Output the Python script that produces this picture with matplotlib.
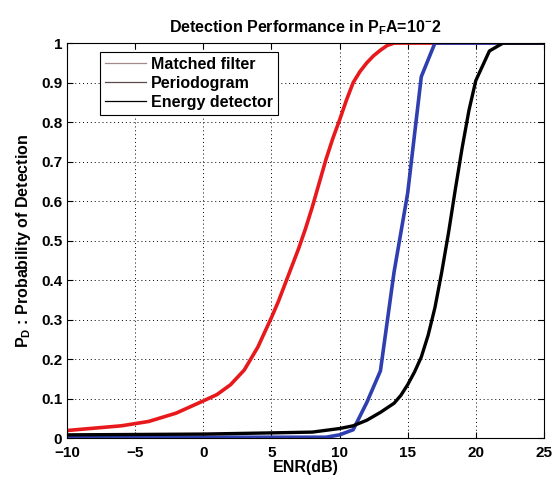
import matplotlib
matplotlib.use("Agg")
import matplotlib.pyplot as plt

plt.rcParams['font.family'] = ['Liberation Sans', 'DejaVu Sans']
plt.rcParams['font.weight'] = 'bold'
plt.rcParams['mathtext.fontset'] = 'custom'
plt.rcParams['mathtext.rm'] = 'Liberation Sans:bold'
plt.rcParams['mathtext.it'] = 'Liberation Sans:bold'
plt.rcParams['mathtext.bf'] = 'Liberation Sans:bold'

# Matched filter (red)
mf_x = [-10, -8, -6, -4, -2, 0, 1, 2, 3, 4, 5, 5.5, 6, 6.5, 7, 7.5, 8, 8.5, 9, 9.5,
        10, 10.5, 11, 11.5, 12, 12.5, 13, 13.5, 14, 25]
mf_y = [0.019, 0.025, 0.031, 0.042, 0.063, 0.094, 0.11, 0.135, 0.172, 0.23, 0.305,
        0.345, 0.39, 0.435, 0.48, 0.53, 0.585, 0.645, 0.705, 0.758, 0.805, 0.855,
        0.9, 0.928, 0.95, 0.968, 0.982, 0.994, 1.0, 1.0]

# Periodogram (blue)
pg_x = [-10, 9, 10, 11, 12, 13, 14, 15, 16, 17, 25]
pg_y = [0.002, 0.002, 0.008, 0.021, 0.09, 0.17, 0.42, 0.62, 0.915, 1.0, 1.0]

# Energy detector (black)
ed_x = [-10, -5, 0, 5, 8, 10, 11, 12, 13, 14, 14.5, 15, 15.5, 16, 16.5, 17, 17.5, 18,
        18.5, 19, 19.5, 20, 21, 22, 25]
ed_y = [0.008, 0.009, 0.010, 0.013, 0.015, 0.024, 0.031, 0.045, 0.065, 0.088, 0.108,
        0.135, 0.167, 0.205, 0.26, 0.33, 0.42, 0.52, 0.63, 0.735, 0.83, 0.905, 0.98,
        1.0, 1.0]

fig = plt.figure(figsize=(5.59, 4.84), dpi=100)
ax = fig.add_axes([0.12, 0.095, 0.853, 0.816])

ax.plot(mf_x, mf_y, color='#e8191c', linewidth=2.6)
ax.plot(pg_x, pg_y, color='#2f3fb0', linewidth=2.6)
ax.plot(ed_x, ed_y, color='black', linewidth=2.4)

# legend lines are drawn thin and greyish, as in the original
h1, = ax.plot([], [], color='#a08a8a', linewidth=0.9)
h2, = ax.plot([], [], color='#5a4a4a', linewidth=0.9)
h3, = ax.plot([], [], color='black', linewidth=0.9)
leg = ax.legend([h1, h2, h3], ['Matched filter', 'Periodogram', 'Energy detector'],
                loc='upper left', bbox_to_anchor=(0.069, 0.977), borderaxespad=0,
                fancybox=False, edgecolor='black', framealpha=1,
                prop={'size': 11.5, 'weight': 'bold'}, handlelength=2.6,
                handletextpad=0.3, labelspacing=0.25, borderpad=0.3)
leg.get_frame().set_linewidth(0.8)

ax.set_xlim(-10, 25)
ax.set_ylim(0, 1)
ax.set_xticks(range(-10, 26, 5))
ax.set_yticks([i / 10 for i in range(11)])
ax.set_yticklabels(['0', '0.1', '0.2', '0.3', '0.4', '0.5', '0.6', '0.7', '0.8', '0.9', '1'])
ax.tick_params(direction='in', labelsize=11, length=4, width=0.8, top=True, right=True)
ax.tick_params(axis='x', pad=6)
for lab in ax.get_xticklabels() + ax.get_yticklabels():
    lab.set_fontweight('bold')
ax.grid(True, linestyle=(0, (1, 3)), color='black', linewidth=0.7)
for s in ax.spines.values():
    s.set_linewidth(0.8)

ax.set_xlabel('ENR(dB)', fontsize=11.5, fontweight='bold', labelpad=0)
ax.set_ylabel(r'P$_D$ : Probability of Detection', fontsize=11.5, fontweight='bold', labelpad=6)
ax.set_title(r'Detection Performance in P$_F$A=10$^{-}$2', fontsize=11.5,
             fontweight='bold', pad=8)

fig.savefig('out.png', dpi=100)
